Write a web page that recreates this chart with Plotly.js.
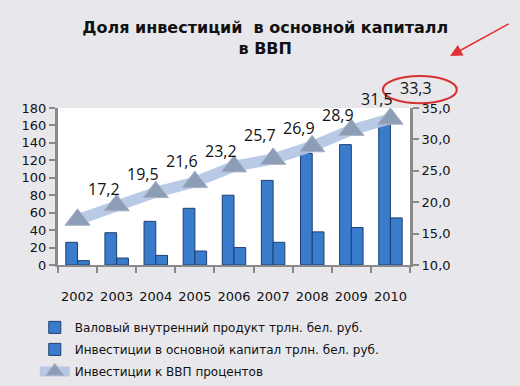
<!DOCTYPE html>
<html>
<head>
<meta charset="utf-8">
<script src="https://cdn.plot.ly/plotly-3.0.1.min.js"></script>
<style>html,body{margin:0;padding:0;background:#e8e8ec;}#chart{width:520px;height:386px;}</style>
</head>
<body>
<div id="chart"></div>
<script>
const years = ['2002','2003','2004','2005','2006','2007','2008','2009','2010'];
const gdp = [26, 37, 50, 65, 80, 97, 128, 138, 162];
const invest = [5, 8, 11, 16, 20, 26, 38, 43, 54];
const share = [17.2, 19.5, 21.6, 23.2, 25.7, 26.9, 28.9, 31.5, 33.3];
const shareLabels = ['17,2','19,5','21,6','23,2','25,7','26,9','28,9','31,5','33,3'];
const names = ['Валовый внутренний продукт трлн. бел. руб.',
               'Инвестиции в основной капитал трлн. бел. руб.',
               'Инвестиции к ВВП процентов'];

const font = 'DejaVu Sans, Verdana, sans-serif';
const lblFont = 'Open Sans, DejaVu Sans, sans-serif';
const traces = [
  {type:'bar', x:years, y:gdp, name:names[0], legendgroup:'a',
   marker:{color:'#3a7ccc', line:{color:'#1d3f70', width:1}}},
  {type:'bar', x:years, y:invest, name:names[1], legendgroup:'b',
   marker:{color:'#3a7ccc', line:{color:'#1d3f70', width:1}}},
  {type:'scatter', mode:'lines+markers', x:years, y:share, yaxis:'y2', name:names[2], legendgroup:'c',
   line:{color:'rgba(176,196,226,0.9)', width:11},
   marker:{symbol:'triangle-up', size:22, color:'#8e9db6', line:{color:'#a8b4c8', width:1}}}
];

const annotations = years.map((yr,i)=>({
  x: i, y: share[i], xref:'x', yref:'y2', text: shareLabels[i], showarrow:false,
  xshift: 26, yshift: 31, font:{family:lblFont, size:16, color:'#111'}
}));
annotations.push({x:1.114, y:1.331, xref:'paper', yref:'paper', text:'', showarrow:true,
  ax:60, ay:-33, axref:'pixel', ayref:'pixel', arrowcolor:'#e03030', arrowwidth:1.5, arrowhead:2, arrowsize:1.6});

const layout = {
  width:520, height:386,
  paper_bgcolor:'#e8e8ec', plot_bgcolor:'#ffffff',
  margin:{l:58, r:110, t:108, b:121, autoexpand:false},
  separators:', ',
  title:{text:'<b>Доля инвестиций  в основной капиталл<br>в ВВП</b>',
         font:{family:font, size:16, color:'#111'}, x:0.51, xanchor:'center', y:0.915, yanchor:'top'},
  barmode:'group', bargap:0.4, bargroupgap:0,
  showlegend:true,
  legend:{x:-0.066, xanchor:'left', y:-0.305, yanchor:'top', orientation:'v', traceorder:'grouped',
          font:{family:font, size:12, color:'#111'}, bgcolor:'rgba(0,0,0,0)', tracegroupgap:3, itemwidth:30},
  xaxis:{type:'category', range:[-0.5,8.5], automargin:false, tickangle:0, showline:true, linecolor:'#8a8a8a', linewidth:2,
         ticks:'outside', tickson:'boundaries',
         tickcolor:'#8a8a8a', ticklen:6, tickwidth:2, ticklabelstandoff:18,
         tickfont:{family:font, size:13, color:'#111'}, showgrid:false, zeroline:false},
  yaxis:{range:[0,180], dtick:20, automargin:false, showline:true, linecolor:'#8a8a8a', linewidth:3, ticks:'outside',
         tickcolor:'#8a8a8a', ticklen:6, tickwidth:2, showgrid:false, zeroline:false,
         tickfont:{family:font, size:13, color:'#111'}},
  yaxis2:{range:[10,35], dtick:5, tickformat:'.1f', automargin:false, overlaying:'y', side:'right', showline:true,
          linecolor:'#8a8a8a', linewidth:3, ticks:'outside', tickcolor:'#8a8a8a', ticklen:6, tickwidth:2,
          showgrid:false, zeroline:false, tickfont:{family:font, size:13, color:'#111'}},
  annotations: annotations,
  shapes:[
    {type:'circle', xref:'paper', yref:'paper', x0:0.923, x1:1.133, y0:1.03, y1:1.204,
     line:{color:'#d83030', width:2}}
  ]
};

Plotly.newPlot('chart', traces, layout, {displayModeBar:false, staticPlot:true});
</script>
</body>
</html>
